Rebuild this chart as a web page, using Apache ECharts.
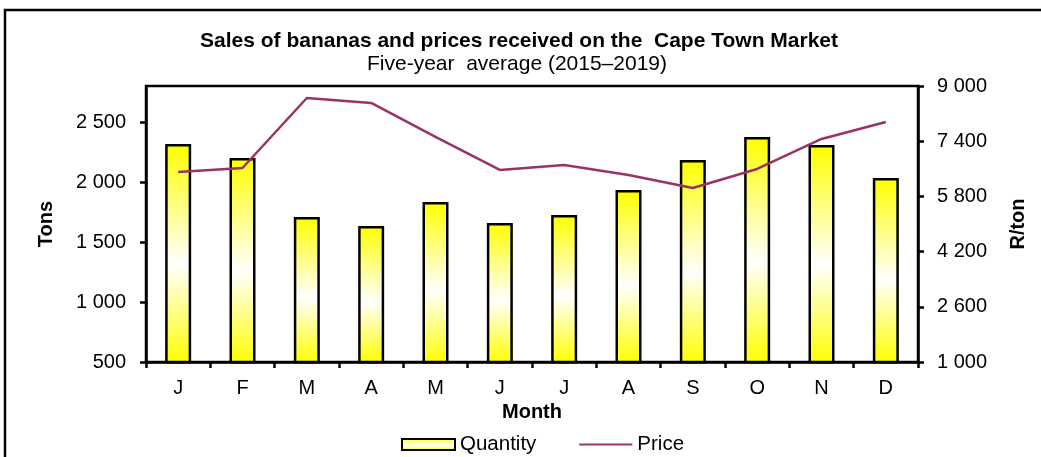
<!DOCTYPE html>
<html>
<head>
<meta charset="utf-8">
<script src="https://cdn.jsdelivr.net/npm/echarts@6/dist/echarts.min.js"></script>
<style>html,body{margin:0;padding:0;background:#fff}#c{width:1041px;height:457px}</style>
</head>
<body>
<div id="c"></div>
<script>
const months = ['J','F','M','A','M','J','J','A','S','O','N','D'];
const quantity = [2317, 2200, 1708, 1633, 1833, 1658, 1725, 1933, 2183, 2375, 2308, 2033];
const price = [6508, 6624, 8652, 8508, 7523, 6566, 6711, 6420, 6044, 6595, 7465, 7958];

const fmt = v => String(v).replace(/\B(?=(\d{3})+(?!\d))/g, ' ');
const FONT = 'Liberation Sans, Arial, sans-serif';
const chart = echarts.init(document.getElementById('c'));
chart.setOption({
  animation: false,
  backgroundColor: '#fff',
  textStyle: { fontFamily: FONT, color: '#000' },
  graphic: [{
    type: 'rect', shape: { x: 5, y: 10, width: 1060, height: 470 },
    style: { fill: 'none', stroke: '#000', lineWidth: 2.5 }, silent: true
  }],
  title: [{
    text: 'Sales of bananas and prices received on the  Cape Town Market',
    left: 514, top: 26, textAlign: 'center',
    textStyle: { fontFamily: FONT, fontSize: 21, fontWeight: 'bold', color: '#000' }
  }, {
    text: 'Five-year  average (2015\u20132019)',
    left: 512, top: 49, textAlign: 'center',
    textStyle: { fontFamily: FONT, fontSize: 21, fontWeight: 'normal', color: '#000' }
  }],
  legend: {
    top: 429, left: 396,
    itemGap: 42,
    textStyle: { fontFamily: FONT, fontSize: 20.5, color: '#000' },
    data: [
      { name: 'Quantity', icon: 'rect' },
      { name: 'Price', itemStyle: { opacity: 0 } }
    ],
    itemWidth: 53, itemHeight: 11
  },
  grid: { left: 146, right: 123, top: 86, bottom: 95, show: true, borderColor: '#000', borderWidth: 2.5, backgroundColor: 'transparent' },
  xAxis: {
    type: 'category', data: months,
    name: 'Month', nameLocation: 'middle', nameGap: 37,
    nameTextStyle: { fontFamily: FONT, fontSize: 20, fontWeight: 'bold', color: '#000' },
    axisLine: { lineStyle: { color: '#000', width: 2.5 } },
    axisTick: { show: true, length: 6, lineStyle: { color: '#000', width: 2.5 } },
    axisLabel: { fontFamily: FONT, fontSize: 20, color: '#000', margin: 16 }
  },
  yAxis: [{
    type: 'value', min: 500, max: 2800, interval: 500,
    name: 'Tons', nameLocation: 'middle', nameGap: 90, nameRotate: 90,
    nameTextStyle: { fontFamily: FONT, fontSize: 20, fontWeight: 'bold', color: '#000' },
    axisLine: { show: true, lineStyle: { color: '#000', width: 2.5 } },
    axisTick: { show: true, length: 6, lineStyle: { color: '#000', width: 2.5 } },
    splitLine: { show: false },
    axisLabel: { fontFamily: FONT, fontSize: 20, color: '#000', margin: 20, showMaxLabel: false,
      formatter: v => v > 2500 ? '' : fmt(v) }
  }, {
    type: 'value', min: 1000, max: 9000, interval: 1600, position: 'right',
    name: 'R/ton', nameLocation: 'middle', nameGap: 90, nameRotate: 90,
    nameTextStyle: { fontFamily: FONT, fontSize: 20, fontWeight: 'bold', color: '#000' },
    axisLine: { show: true, lineStyle: { color: '#000', width: 2.5 } },
    axisTick: { show: true, length: 6, lineStyle: { color: '#000', width: 2.5 } },
    splitLine: { show: false },
    axisLabel: { fontFamily: FONT, fontSize: 20, color: '#000', margin: 19, formatter: v => fmt(v) }
  }],
  series: [{
    name: 'Quantity', type: 'bar', data: quantity, yAxisIndex: 0, barWidth: 26,
    itemStyle: {
      color: new echarts.graphic.LinearGradient(0, 0, 0, 1, [
        { offset: 0, color: '#ffff00' },
        { offset: 0.55, color: '#ffffff' },
        { offset: 1, color: '#ffff00' }
      ]),
      borderColor: '#000', borderWidth: 2.5
    }
  }, {
    name: 'Price', type: 'line', data: price, yAxisIndex: 1,
    symbol: 'none', showSymbol: false,
    lineStyle: { color: '#993366', width: 2.5 },
    itemStyle: { color: '#993366' }
  }]
});
</script>
</body>
</html>
